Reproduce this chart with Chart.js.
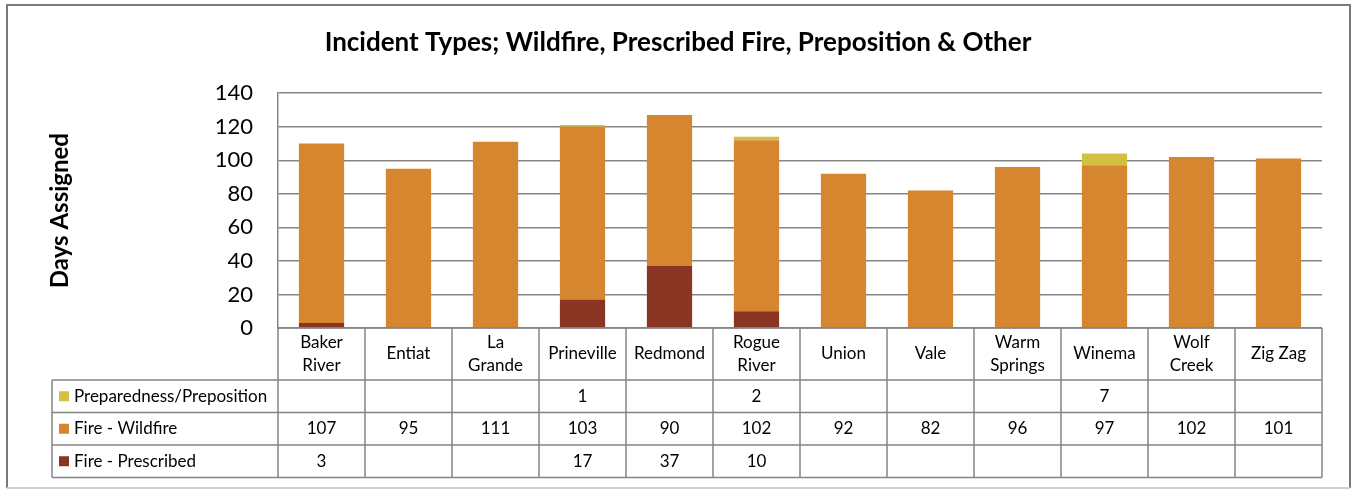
<!DOCTYPE html>
<html>
<head>
<meta charset="utf-8">
<script src="https://cdn.jsdelivr.net/npm/chart.js@4.4.0/dist/chart.umd.min.js"></script>
<style>
body { margin: 0; background: #fff; }
</style>
</head>
<body>
<canvas id="incidentChart" width="1354" height="490"></canvas>
<script>
// Units (table header / x categories)
var units = [['Baker', 'River'], 'Entiat', ['La', 'Grande'], 'Prineville', 'Redmond', ['Rogue', 'River'],
    'Union', 'Vale', ['Warm', 'Springs'], 'Winema', ['Wolf', 'Creek'], 'Zig Zag'];

// Days assigned per incident type
var prescribed   = [3, null, null, 17, 37, 10, null, null, null, null, null, null];
var wildfire     = [107, 95, 111, 103, 90, 102, 92, 82, 96, 97, 102, 101];
var preparedness = [null, null, null, 1, null, 2, null, null, null, 7, null, null];

var yTicks = [0, 20, 40, 60, 80, 100, 120, 140];

var fontFamily = 'Lato, "Open Sans", sans-serif';
var lineColor = '#858585';

// Draws the frame and the data table under the plot
var dataTablePlugin = {
    id: 'dataTable',
    afterDraw: function (chart) {
        var ctx = chart.ctx;
        var area = chart.chartArea;
        var n = units.length;
        var colW = (area.right - area.left) / n;
        var headTop = area.bottom;
        var headH = 52;
        var rowH = 32.5;
        var labelLeft = 52;
        var rows = chart.data.datasets.slice().reverse();
        var tableBottom = headTop + headH + rowH * rows.length;

        ctx.save();
        ctx.strokeStyle = lineColor;
        ctx.lineWidth = 1.5;

        // horizontal lines
        ctx.beginPath();
        ctx.moveTo(area.left, headTop);
        ctx.lineTo(area.right, headTop);
        for (var r = 0; r <= rows.length; r++) {
            var y = headTop + headH + r * rowH;
            ctx.moveTo(labelLeft, y);
            ctx.lineTo(area.right, y);
        }
        // vertical lines
        ctx.moveTo(labelLeft, headTop + headH);
        ctx.lineTo(labelLeft, tableBottom);
        for (var c = 0; c <= n; c++) {
            var x = area.left + c * colW;
            ctx.moveTo(x, headTop);
            ctx.lineTo(x, tableBottom);
        }
        ctx.stroke();

        // header text
        ctx.fillStyle = '#000';
        ctx.font = '17px ' + fontFamily;
        ctx.textAlign = 'center';
        ctx.textBaseline = 'middle';
        for (var i = 0; i < n; i++) {
            var cx = chart.scales.x.getPixelForValue(i);
            var lbl = units[i];
            var cy = headTop + headH / 2;
            if (Array.isArray(lbl)) {
                ctx.fillText(lbl[0], cx, cy - 11);
                ctx.fillText(lbl[1], cx, cy + 12);
            } else {
                ctx.fillText(lbl, cx, cy);
            }
        }

        // data rows
        for (var r2 = 0; r2 < rows.length; r2++) {
            var ds = rows[r2];
            var ry = headTop + headH + r2 * rowH + rowH / 2;
            ctx.fillStyle = ds.backgroundColor;
            ctx.fillRect(labelLeft + 7, ry - 5, 10, 10);
            ctx.fillStyle = '#000';
            ctx.textAlign = 'left';
            ctx.fillText(ds.label, labelLeft + 22, ry);
            ctx.textAlign = 'center';
            for (var j = 0; j < n; j++) {
                if (ds.data[j] !== null) {
                    ctx.fillText(String(ds.data[j]), chart.scales.x.getPixelForValue(j), ry);
                }
            }
        }

        // outer frame
        ctx.lineWidth = 2;
        ctx.strokeStyle = '#7a7a7a';
        ctx.beginPath();
        ctx.moveTo(7, 488);
        ctx.lineTo(7, 5);
        ctx.lineTo(1350, 5);
        ctx.lineTo(1350, 488);
        ctx.stroke();
        ctx.strokeStyle = '#d0d0d0';
        ctx.beginPath();
        ctx.moveTo(7, 488);
        ctx.lineTo(1350, 488);
        ctx.stroke();
        ctx.restore();
    }
};

var ctx = document.getElementById('incidentChart');
var chart = new Chart(ctx, {
    type: 'bar',
    data: {
        labels: units,
        datasets: [
            {
                label: 'Fire - Prescribed',
                data: prescribed,
                backgroundColor: '#8a3524'
            },
            {
                label: 'Fire - Wildfire',
                data: wildfire,
                backgroundColor: '#d5862f'
            },
            {
                label: 'Preparedness/Preposition',
                data: preparedness,
                backgroundColor: '#d3c042'
            }
        ]
    },
    options: {
        responsive: false,
        animation: false,
        layout: {
            padding: { left: 34, right: 32, top: 0, bottom: 162 }
        },
        datasets: {
            bar: {
                categoryPercentage: 1,
                barPercentage: 0.52
            }
        },
        plugins: {
            legend: { display: false },
            tooltip: { enabled: false },
            title: {
                display: true,
                text: 'Incident Types; Wildfire, Prescribed Fire, Preposition & Other',
                color: '#000',
                font: { family: fontFamily, size: 26, weight: 'bold' },
                padding: { top: 27, bottom: 35 }
            }
        },
        scales: {
            x: {
                display: false,
                stacked: true
            },
            y: {
                stacked: true,
                min: 0,
                max: 140,
                afterFit: function (scale) {
                    scale.width = 244;
                },
                afterBuildTicks: function (scale) {
                    scale.ticks = yTicks.map(function (v) { return { value: v }; });
                },
                ticks: {
                    color: '#000',
                    padding: 25,
                    font: { family: fontFamily, size: 22 }
                },
                grid: {
                    color: lineColor,
                    lineWidth: 1.5,
                    drawTicks: false
                },
                border: {
                    color: lineColor,
                    width: 1.5
                },
                title: {
                    display: true,
                    text: 'Days Assigned',
                    color: '#000',
                    font: { family: fontFamily, size: 24, weight: 'bold' },
                    padding: { top: 12, bottom: 0 }
                }
            }
        }
    },
    plugins: [dataTablePlugin]
});
</script>
</body>
</html>
